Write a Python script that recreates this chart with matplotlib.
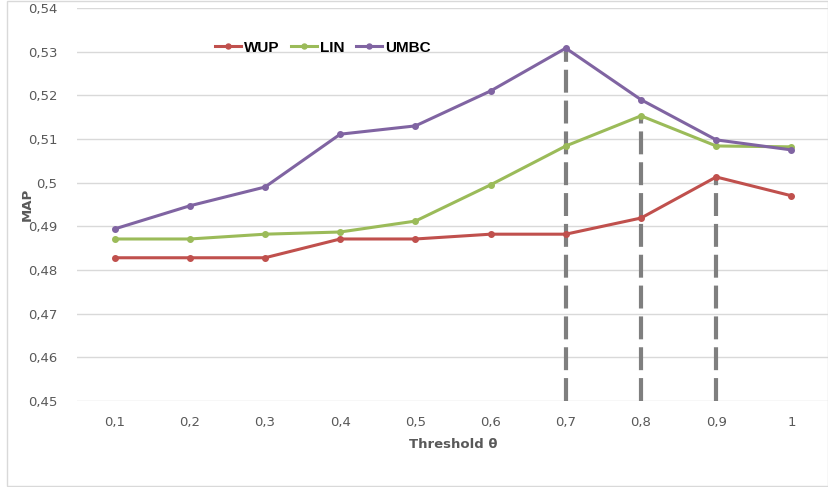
import matplotlib
matplotlib.use("Agg")
import matplotlib.pyplot as plt
from matplotlib.patches import Rectangle

thresholds = ["0,1", "0,2", "0,3", "0,4", "0,5", "0,6", "0,7", "0,8", "0,9", "1"]
wup = [0.4828, 0.4828, 0.4828, 0.4871, 0.4871, 0.4882, 0.4882, 0.4919, 0.5013, 0.4970]
lin = [0.4871, 0.4871, 0.4882, 0.4887, 0.4912, 0.4995, 0.5084, 0.5153, 0.5084, 0.5082]
umbc = [0.4894, 0.4947, 0.4990, 0.5111, 0.5130, 0.5210, 0.5308, 0.5190, 0.5098, 0.5075]
y_ticks = [0.45, 0.46, 0.47, 0.48, 0.49, 0.50, 0.51, 0.52, 0.53, 0.54]
y_labels = ["0,45", "0,46", "0,47", "0,48", "0,49", "0,5", "0,51", "0,52", "0,53", "0,54"]
# best value of each series -> dashed drop line
drops = [(6, umbc[6]), (7, lin[7]), (8, wup[8])]

fig = plt.figure(figsize=(8.29, 4.87), dpi=100)
fig.patches.append(Rectangle((0.0085, 0.002), 0.99, 0.996, transform=fig.transFigure,
                             fill=False, edgecolor="#d9d9d9", linewidth=1))
ax = fig.add_axes([0.0929, 0.1766, 0.9071, 0.807])

x = list(range(len(thresholds)))
for i, top in drops:
    ax.plot([i, i], [0.45, top], color="#7f7f7f", lw=3, dashes=(5.5, 1.9), zorder=1)

ax.plot(x, wup, color="#C0504D", lw=2.2, marker="o", ms=4, label="WUP", zorder=3)
ax.plot(x, lin, color="#9BBB59", lw=2.2, marker="o", ms=4, label="LIN", zorder=3)
ax.plot(x, umbc, color="#8064A2", lw=2.2, marker="o", ms=4, label="UMBC", zorder=3)

ax.set_xlim(-0.5, len(thresholds) - 0.5)
ax.set_ylim(0.45, 0.54)
ax.set_xticks(x)
ax.set_xticklabels(thresholds)
ax.set_yticks(y_ticks)
ax.set_yticklabels(y_labels)
ax.tick_params(length=0, colors="#595959", labelsize=9.5)
ax.tick_params(axis="y", pad=14)
ax.tick_params(axis="x", pad=11)
ax.grid(axis="y", color="#d9d9d9", lw=1)
ax.set_axisbelow(True)
for s in ax.spines.values():
    s.set_visible(False)

ax.set_ylabel("MAP", fontsize=9.5, fontweight="bold", color="#595959")
ax.yaxis.set_label_coords(-0.058, 0.5)
ax.set_xlabel("Threshold θ", fontsize=9.5, fontweight="bold", color="#595959", labelpad=6)

leg = ax.legend(loc="upper left", bbox_to_anchor=(0.165, 0.952), ncol=3, frameon=False,
                prop={"family": "Liberation Sans", "weight": "bold", "size": 11},
                handlelength=1.7, columnspacing=0.75, handletextpad=0.2, markerscale=0.9)

fig.savefig("out.png", dpi=100)
